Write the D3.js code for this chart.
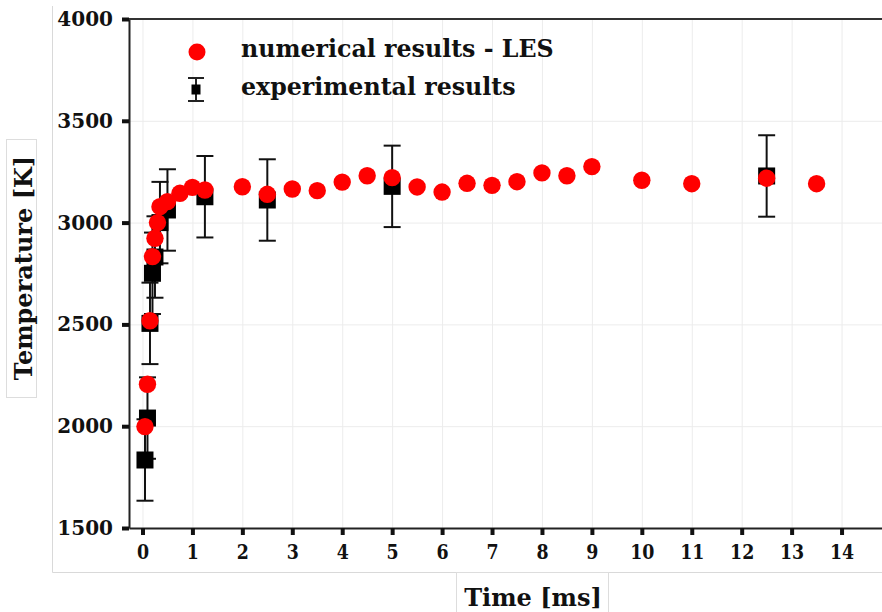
<!DOCTYPE html>
<html lang="en">
<head>
    <meta charset="UTF-8">
    <title>Temperature vs Time</title>
    <script src="https://d3js.org/d3.v7.min.js"></script>
    <style>
        body { margin: 0; background: #fff; }
        svg { display: block; }
        .tick text { font-family: "DejaVu Serif", serif; font-weight: bold; font-size: 20px; fill: #111; }
        .lbl { font-family: "DejaVu Serif", serif; font-weight: bold; font-size: 24px; fill: #111; }
        .leg { font-family: "DejaVu Serif", serif; font-weight: bold; font-size: 23.7px; fill: #111; }
        .grid line { stroke: #ececec; stroke-width: 1; }
        .grid .domain { display: none; }
    </style>
</head>
<body>
<div id="chart"></div>
<script>
    // numerical results (LES)
    var lesTime = [0.05, 0.1, 0.15, 0.2, 0.25, 0.3, 0.35, 0.5, 0.75, 1, 1.25, 2, 2.5, 3, 3.5, 4, 4.5, 5, 5.5, 6, 6.5, 7, 7.5, 8, 8.5, 9, 10, 11, 12.5, 13.5];
    var lesTemp = [1998, 2206, 2518, 2833, 2923, 3000, 3078, 3103, 3144, 3173, 3160, 3176, 3139, 3165, 3157, 3199, 3230, 3221, 3175, 3150, 3193, 3183, 3201, 3244, 3230, 3275, 3208, 3191, 3218, 3191];

    // experimental results with error
    var expTime = [0.05, 0.1, 0.15, 0.2, 0.25, 0.35, 0.5, 1.25, 2.5, 5, 12.5];
    var expTemp = [1834, 2040, 2505, 2751, 2831, 3000, 3062, 3127, 3111, 3178, 3229];
    var expErr = [200, 200, 200, 200, 200, 200, 200, 200, 200, 200, 200];

    var xTicks = d3.range(0, 15, 1);
    var yTicks = [1500, 2000, 2500, 3000, 3500, 4000];
    var legendLabels = ["numerical results - LES", "experimental results"];

    var w = 882, h = 612;
    var pLeft = 129, pRight = 882, pTop = 19, pBottom = 528;

    var x = d3.scaleLinear().domain([-0.27, 14.81]).range([pLeft, pRight]);
    var y = d3.scaleLinear().domain([1500, 4000]).range([pBottom, pTop]);

    var svg = d3.select("#chart").append("svg")
        .attr("width", w)
        .attr("height", h);

    // panel frame lines
    svg.append("line").attr("x1", 52.5).attr("x2", 52.5).attr("y1", 6).attr("y2", 572.5)
        .style("stroke", "#d9d9d9");
    svg.append("line").attr("x1", 52.5).attr("x2", w).attr("y1", 572.5).attr("y2", 572.5)
        .style("stroke", "#d9d9d9");
    svg.append("rect").attr("x", 6.5).attr("y", 139.5).attr("width", 30).attr("height", 258)
        .style("fill", "none").style("stroke", "#dddddd");
    svg.append("rect").attr("x", 456.5).attr("y", 572.5).attr("width", 152).attr("height", 50)
        .style("fill", "none").style("stroke", "#dddddd");

    // grid
    svg.append("g").attr("class", "grid")
        .attr("transform", "translate(0," + pBottom + ")")
        .call(d3.axisBottom(x).tickValues(xTicks).tickSize(-(pBottom - pTop)).tickFormat(""));
    svg.append("g").attr("class", "grid")
        .attr("transform", "translate(" + pLeft + ",0)")
        .call(d3.axisLeft(y).tickValues(yTicks).tickSize(-(pRight - pLeft)).tickFormat(""));

    // axes
    var xAxis = svg.append("g")
        .attr("transform", "translate(0," + pBottom + ")")
        .call(d3.axisBottom(x).tickValues(xTicks).tickSize(7).tickSizeOuter(0).tickPadding(10));
    xAxis.select(".domain").style("stroke", "#222").style("stroke-width", 2);
    xAxis.selectAll(".tick line").style("stroke", "#111").style("stroke-width", 4);
    xAxis.selectAll(".tick text").attr("transform", "scale(0.87,1)");

    var yAxis = svg.append("g")
        .attr("transform", "translate(" + pLeft + ",0)")
        .call(d3.axisLeft(y).tickValues(yTicks).tickFormat(d3.format("d")).tickSize(7).tickSizeOuter(0).tickPadding(9));
    yAxis.select(".domain").style("stroke", "#222").style("stroke-width", 2);
    yAxis.selectAll(".tick line").style("stroke", "#111").style("stroke-width", 4);

    // top spine
    svg.append("line").attr("x1", pLeft).attr("x2", pRight).attr("y1", pTop).attr("y2", pTop)
        .style("stroke", "#333").style("stroke-width", 2);

    // axis titles
    svg.append("text").attr("class", "lbl")
        .attr("transform", "translate(533,606)")
        .style("text-anchor", "middle")
        .text("Time [ms]");
    svg.append("text").attr("class", "lbl")
        .attr("transform", "translate(32,268) rotate(-90)")
        .style("text-anchor", "middle")
        .text("Temperature [K]");

    var expData = expTime.map(function(t, i) { return { t: t, v: expTemp[i], e: expErr[i] }; });
    var lesData = lesTime.map(function(t, i) { return { t: t, v: lesTemp[i] }; });

    // error bars
    var eb = svg.append("g").selectAll("g").data(expData).enter().append("g")
        .style("stroke", "#111").style("stroke-width", 2);
    eb.append("line")
        .attr("x1", function(d) { return x(d.t); }).attr("x2", function(d) { return x(d.t); })
        .attr("y1", function(d) { return y(d.v - d.e); }).attr("y2", function(d) { return y(d.v + d.e); });
    eb.append("line")
        .attr("x1", function(d) { return x(d.t) - 8.5; }).attr("x2", function(d) { return x(d.t) + 8.5; })
        .attr("y1", function(d) { return y(d.v - d.e); }).attr("y2", function(d) { return y(d.v - d.e); });
    eb.append("line")
        .attr("x1", function(d) { return x(d.t) - 8.5; }).attr("x2", function(d) { return x(d.t) + 8.5; })
        .attr("y1", function(d) { return y(d.v + d.e); }).attr("y2", function(d) { return y(d.v + d.e); });

    svg.append("g").selectAll("rect").data(expData).enter().append("rect")
        .attr("x", function(d) { return x(d.t) - 8.5; })
        .attr("y", function(d) { return y(d.v) - 8.5; })
        .attr("width", 17).attr("height", 17)
        .style("fill", "#000");

    svg.append("g").selectAll("circle").data(lesData).enter().append("circle")
        .attr("cx", function(d) { return x(d.t); })
        .attr("cy", function(d) { return y(d.v); })
        .attr("r", 8.7)
        .style("fill", "#ff0000");

    // legend
    var legend = svg.append("g");
    legend.append("circle").attr("cx", 197).attr("cy", 52).attr("r", 8.5).style("fill", "#ff0000");
    legend.append("line").attr("x1", 196).attr("x2", 196).attr("y1", 78).attr("y2", 101)
        .style("stroke", "#222").style("stroke-width", 2);
    legend.append("line").attr("x1", 188).attr("x2", 204).attr("y1", 78).attr("y2", 78)
        .style("stroke", "#222").style("stroke-width", 2);
    legend.append("line").attr("x1", 188).attr("x2", 204).attr("y1", 101).attr("y2", 101)
        .style("stroke", "#222").style("stroke-width", 2);
    legend.append("rect").attr("x", 191.5).attr("y", 84.5).attr("width", 9).attr("height", 10).style("fill", "#000");
    legend.selectAll("text").data(legendLabels).enter().append("text")
        .attr("class", "leg")
        .attr("x", 241)
        .attr("y", function(d, i) { return 57 + i * 38; })
        .text(function(d) { return d; });
</script>
</body>
</html>
